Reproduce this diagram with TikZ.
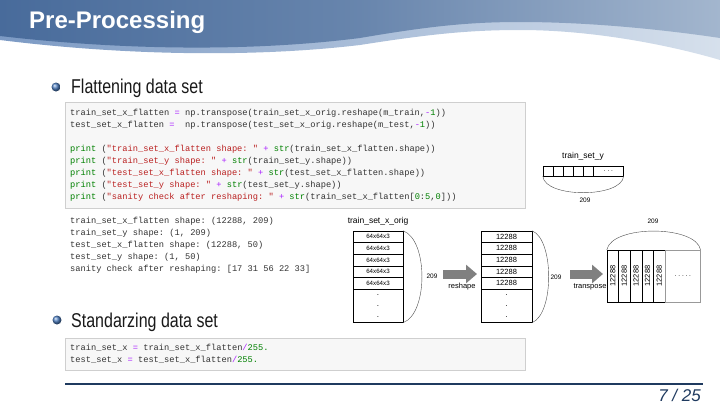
\documentclass[tikz,border=0pt]{standalone}
\usepackage{fontspec}
\usepackage{graphicx}
\setmainfont{Liberation Sans}
\setmonofont{Liberation Mono}
\newfontfamily\gulim[FakeStretch=0.8]{Liberation Sans}
\usetikzlibrary{arrows.meta, calc, shapes.geometric}

\definecolor{hdrdark}{HTML}{486B9B}
\definecolor{hdrlight}{HTML}{A3B6CE}
\definecolor{bandleft}{HTML}{7C9AC4}
\definecolor{bandright}{HTML}{D6E0EC}
\definecolor{navy}{HTML}{1F3A5F}
\definecolor{codebg}{HTML}{F7F7F7}
\definecolor{codeframe}{HTML}{CFCFCF}
\definecolor{pygreen}{HTML}{008000}
\definecolor{pyred}{HTML}{BA2121}
\definecolor{pypurple}{HTML}{AA22FF}
\definecolor{bulletblue}{HTML}{4F7FC0}
\definecolor{arrowgray}{HTML}{808080}

\newcommand{\pyk}[1]{\textcolor{pygreen}{#1}}
\newcommand{\pys}[1]{\textcolor{pyred}{#1}}
\newcommand{\pyo}[1]{\textcolor{pypurple}{#1}}
\newcommand{\pyn}[1]{\textcolor{pygreen}{#1}}
\newcommand{\fatArrow}{{Triangle[length=11pt,width=18pt]}}

\begin{document}
\begin{tikzpicture}[x=1pt, y=-1pt,
	codeline/.style={anchor=west, inner sep=0, font=\ttfamily\fontsize{8.7}{10}\selectfont, text=black!80},
	codebox/.style={draw=codeframe, fill=codebg, anchor=north west, inner sep=0},
	bullet/.style={circle, ball color=bulletblue, minimum size=9pt, inner sep=0},
	bullettext/.style={anchor=base west, inner sep=0, font=\gulim\fontsize{20}{22}\selectfont, text=black!90},
	cell/.style={draw, minimum width=50pt, minimum height=11.6pt, inner sep=0, font=\fontsize{6.2}{7}\selectfont},
	ycell/.style={draw, minimum width=10pt, minimum height=10pt, inner sep=0},
	tcell/.style={draw, minimum width=11.6pt, minimum height=52pt, inner sep=0, font=\fontsize{7.5}{8}\selectfont},
	lbl/.style={inner sep=0, font=\fontsize{8.5}{10}\selectfont},
	small/.style={inner sep=0, font=\fontsize{6.5}{8}\selectfont},
	dots/.style={inner sep=0, align=center, font=\fontsize{8}{11.2}\selectfont},
	bracket/.style={draw=black!70, thin}]
	\useasboundingbox (0,0) rectangle (720,405);

	% title bar
	\shade[left color=bandleft, right color=bandright] (0,0) -- (720,0) -- (720,60) .. controls (680,48) and (600,30) .. (520,30) .. controls (470,30) and (430,34) .. (360,45) .. controls (250,58) and (120,55) .. (0,40) -- cycle;
	\shade[left color=hdrdark, right color=hdrlight, middle color=hdrdark!65!hdrlight] (0,0) -- (720,0) -- (720,38) .. controls (680,32) and (600,22) .. (520,22) .. controls (470,22) and (430,26) .. (360,38) .. controls (250,52) and (120,50) .. (0,36) -- cycle;
	\node[anchor=base west, inner sep=0, text=white, font=\bfseries\fontsize{24}{26}\selectfont] (title) at (29,28) {Pre-Processing};

	% flattening
	\node[bullet] (b1) at (56,87) {};
	\node[bullettext] (t1) at (71,93) {Flattening data set};

	\node[codebox, minimum width=460pt, minimum height=106pt] (box1) at (65,102) {};
	\node[codeline] (c1) at (70,113) {train\_set\_x\_flatten \pyo{=} np.transpose(train\_set\_x\_orig.reshape(m\_train,\pyo{-}\pyn{1}))};
	\node[codeline] (c2) at (70,125) {test\_set\_x\_flatten \pyo{=}\ \ np.transpose(test\_set\_x\_orig.reshape(m\_test,\pyo{-}\pyn{1}))};
	\node[codeline] (c3) at (70,149) {\pyk{print} (\pys{"train\_set\_x\_flatten shape: "} \pyo{+} \pyk{str}(train\_set\_x\_flatten.shape))};
	\node[codeline] (c4) at (70,161) {\pyk{print} (\pys{"train\_set\_y shape: "} \pyo{+} \pyk{str}(train\_set\_y.shape))};
	\node[codeline] (c5) at (70,173) {\pyk{print} (\pys{"test\_set\_x\_flatten shape: "} \pyo{+} \pyk{str}(test\_set\_x\_flatten.shape))};
	\node[codeline] (c6) at (70,185) {\pyk{print} (\pys{"test\_set\_y shape: "} \pyo{+} \pyk{str}(test\_set\_y.shape))};
	\node[codeline] (c7) at (70,197) {\pyk{print} (\pys{"sanity check after reshaping: "} \pyo{+} \pyk{str}(train\_set\_x\_flatten[\pyn{0}:\pyn{5},\pyn{0}]))};

	\node[codeline] (o1) at (70,221) {train\_set\_x\_flatten shape: (12288, 209)};
	\node[codeline] (o2) at (70,233) {train\_set\_y shape: (1, 209)};
	\node[codeline] (o3) at (70,245) {test\_set\_x\_flatten shape: (12288, 50)};
	\node[codeline] (o4) at (70,257) {test\_set\_y shape: (1, 50)};
	\node[codeline] (o5) at (70,269) {sanity check after reshaping: [17 31 56 22 33]};

	% train_set_y
	\node[lbl] (ylabel) at (583,156) {train\_set\_y};
	\foreach \i in {0,...,4}
		\node[ycell] (y\i) at ({548+10*\i},171) {};
	\node[ycell, minimum width=30pt, anchor=west] (yrest) at (y4.east) {\fontsize{6.5}{7}\selectfont .\ .\ .};
	\draw[bracket] (y0.south west) .. controls +(2,22) and +(-2,22) .. (yrest.south east);
	\node[small] (y209) at (585,200) {209};

	% train_set_x_orig
	\node[lbl] (xlabel) at (378,221) {train\_set\_x\_orig};
	\foreach \i in {1,...,5}
		\node[cell] (x\i) at (378,{231+11.6*(\i-0.5)}) {64x64x3};
	\node[cell, minimum height=33pt, anchor=north] (xrest) at (x5.south) {};
	\node[dots] (xdots) at (xrest.center) {.\\.\\.};
	\draw[bracket] (x1.north east) .. controls +(25,9) and +(25,-9) .. (xrest.south east);
	\node[small] (x209) at (432,276) {209};

	\coordinate (r1) at (443,274);
	\coordinate (r2) at (477,274);
	\draw[arrowgray, line width=9pt, -\fatArrow] (r1) -- (r2);
	\node[small, font=\fontsize{7.5}{8}\selectfont] (rlabel) at (462,287) {reshape};

	% flattened
	\foreach \i in {1,...,5}
		\node[cell, minimum width=51pt, font=\fontsize{7.5}{8}\selectfont] (f\i) at (506.5,{231+11.6*(\i-0.5)}) {12288};
	\node[cell, minimum width=51pt, minimum height=33pt, anchor=north] (frest) at (f5.south) {};
	\node[dots] (fdots) at (frest.center) {.\\.\\.};
	\draw[bracket] (f1.north east) .. controls +(22,9) and +(22,-9) .. (frest.south east);
	\node[small] (f209) at (556,277) {209};

	\coordinate (s1) at (570,274);
	\coordinate (s2) at (603,274);
	\draw[arrowgray, line width=9pt, -\fatArrow] (s1) -- (s2);
	\node[small, font=\fontsize{7.5}{8}\selectfont] (slabel) at (590,287) {transpose};

	% transposed
	\foreach \i in {0,...,4}
		\node[tcell] (t\i) at ({612.8+11.6*\i},276) {\rotatebox{90}{12288}};
	\node[tcell, draw=black!40, minimum width=35pt, anchor=west] (trest) at (t4.east) {\fontsize{6.5}{7}\selectfont .\ .\ .\ .\ .};
	\draw[bracket] (t0.north west) .. controls +(5,-25) and +(-5,-25) .. (trest.north east);
	\node[small] (t209) at (653,221) {209};

	% standardizing
	\node[bullet] (b2) at (57,320) {};
	\node[bullettext] (t2) at (71,327) {Standarzing data set};

	\node[codebox, minimum width=460pt, minimum height=32pt] (box2) at (65,338) {};
	\node[codeline] (d1) at (70,348) {train\_set\_x \pyo{=} train\_set\_x\_flatten\pyo{/}\pyn{255.}};
	\node[codeline] (d2) at (70,360) {test\_set\_x \pyo{=} test\_set\_x\_flatten\pyo{/}\pyn{255.}};

	% footer
	\coordinate (fl) at (65,384);
	\coordinate (fr) at (703,384);
	\draw[navy, line width=2pt] (fl) -- (fr);
	\node[anchor=east, inner sep=0, text=navy, font=\itshape\fontsize{17}{18}\selectfont] (page) at (701,395) {7 / 25};
\end{tikzpicture}
\end{document}
